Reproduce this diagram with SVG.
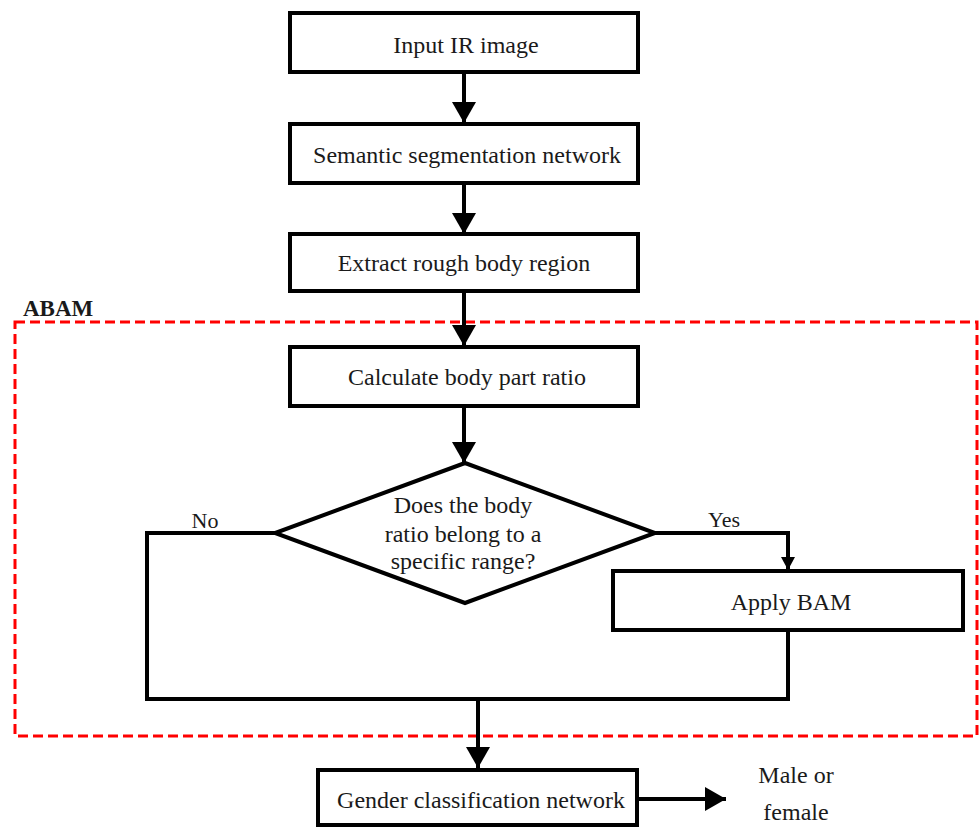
<svg xmlns="http://www.w3.org/2000/svg" width="979" height="828" viewBox="0 0 979 828">
<style>
.box{fill:#fff;stroke:#000;stroke-width:4}
.t{font-family:"Liberation Serif","Times New Roman",serif;font-size:24px;fill:#1a1a1a;text-anchor:middle}
.lbl{font-family:"Liberation Serif","Times New Roman",serif;font-size:22px;fill:#1a1a1a;text-anchor:middle}
.ln{fill:none;stroke:#000;stroke-width:4}
</style>
<defs>
<marker id="ah" markerUnits="userSpaceOnUse" viewBox="0 0 21 24" refX="21" refY="12" markerWidth="21" markerHeight="24" orient="auto"><path d="M0,0 L21,12 L0,24 Z" fill="#000"/></marker>
<marker id="ahs" markerUnits="userSpaceOnUse" viewBox="0 0 13 14" refX="13" refY="7" markerWidth="13" markerHeight="14" orient="auto"><path d="M0,0 L13,7 L0,14 Z" fill="#000"/></marker>
</defs>
<rect width="979" height="828" fill="#fff"/>
<g id="abam">
<rect x="15" y="322" width="962" height="414" fill="none" stroke="#ff0000" stroke-width="3" stroke-dasharray="10,5"/>
<text x="23" y="316" style="font-family:'Liberation Serif','Times New Roman',serif;font-size:23px;font-weight:bold;fill:#1a1a1a">ABAM</text>
</g>
<g id="connectors">
<line class="ln" x1="464" y1="72" x2="464" y2="123" marker-end="url(#ah)"/>
<line class="ln" x1="464" y1="183" x2="464" y2="234" marker-end="url(#ah)"/>
<line class="ln" x1="464" y1="291" x2="464" y2="346" marker-end="url(#ah)"/>
<line class="ln" x1="464" y1="406" x2="464" y2="463" marker-end="url(#ah)"/>
<polyline class="ln" points="275,533 147,533 147,699 788,699 788,630"/>
<polyline class="ln" points="655,533 788,533 788,570" marker-end="url(#ahs)"/>
<line class="ln" x1="478" y1="699" x2="478" y2="768" marker-end="url(#ah)"/>
<line class="ln" x1="637" y1="799" x2="726" y2="799" marker-end="url(#ah)"/>
<text class="lbl" x="205" y="528">No</text>
<text class="lbl" x="724" y="527">Yes</text>
</g>
<g id="n1"><rect class="box" x="290" y="13" width="348" height="59"/><text class="t" x="466" y="53">Input IR image</text></g>
<g id="n2"><rect class="box" x="290" y="124" width="348" height="59"/><text class="t" x="467" y="163">Semantic segmentation network</text></g>
<g id="n3"><rect class="box" x="290" y="234" width="348" height="57"/><text class="t" x="464" y="271">Extract rough body region</text></g>
<g id="n4"><rect class="box" x="290" y="347" width="348" height="59"/><text class="t" x="467" y="385">Calculate body part ratio</text></g>
<g id="n5"><polygon class="box" points="465,463 655,533 465,603 275,533"/>
<text class="t" x="463" y="513">Does the body</text>
<text class="t" x="463" y="542">ratio belong to a</text>
<text class="t" x="463" y="569">specific range?</text></g>
<g id="n6"><rect class="box" x="613" y="571" width="350" height="59"/><text class="t" x="791" y="610">Apply BAM</text></g>
<g id="n7"><rect class="box" x="318" y="770" width="319" height="55"/><text class="t" x="481" y="808">Gender classification network</text></g>
<g id="n8"><text class="t" x="796" y="783">Male or</text><text class="t" x="796" y="820">female</text></g>
</svg>
